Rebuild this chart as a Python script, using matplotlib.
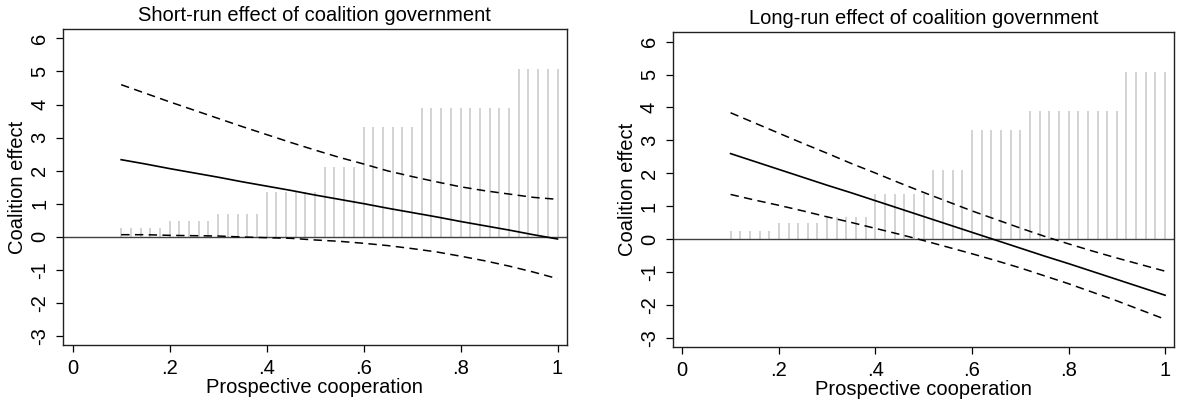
import matplotlib
matplotlib.use('Agg')
import matplotlib.pyplot as plt

plt.rcParams['font.family'] = ['Liberation Sans', 'DejaVu Sans']

# distribution of prospective cooperation (spikes), same in both panels
spike_x = [0.10, 0.12, 0.14, 0.16, 0.18,
           0.20, 0.22, 0.24, 0.26, 0.28,
           0.30, 0.32, 0.34, 0.36, 0.38,
           0.40, 0.42, 0.44, 0.46, 0.48, 0.50,
           0.52, 0.54, 0.56, 0.58,
           0.60, 0.62, 0.64, 0.66, 0.68, 0.70,
           0.72, 0.74, 0.76, 0.78, 0.80, 0.82, 0.84, 0.86, 0.88, 0.90,
           0.92, 0.94, 0.96, 0.98, 1.00]
spike_h = [0.25] * 5 + [0.48] * 5 + [0.69] * 5 + [1.36] * 6 + [2.11] * 4 \
    + [3.32] * 6 + [3.89] * 10 + [5.08] * 5

# effect curves
coop = [0.10, 0.15, 0.20, 0.25, 0.30, 0.35, 0.40, 0.45, 0.50, 0.55,
        0.60, 0.65, 0.70, 0.75, 0.80, 0.85, 0.90, 0.95, 1.00]

short_eff = [2.33, 2.20, 2.06, 1.93, 1.80, 1.66, 1.53, 1.40, 1.26, 1.13,
             1.00, 0.86, 0.73, 0.60, 0.46, 0.33, 0.20, 0.06, -0.07]
short_hi = [4.60, 4.34, 4.08, 3.83, 3.58, 3.33, 3.09, 2.85, 2.62, 2.40,
            2.20, 1.99, 1.82, 1.66, 1.51, 1.39, 1.29, 1.19, 1.13]
short_lo = [0.06, 0.06, 0.04, 0.03, 0.02, -0.01, -0.03, -0.05, -0.10, -0.14,
            -0.20, -0.27, -0.36, -0.46, -0.59, -0.73, -0.89, -1.07, -1.27]

long_eff = [2.60, 2.36, 2.12, 1.88, 1.64, 1.41, 1.17, 0.93, 0.69, 0.45,
            0.21, -0.03, -0.27, -0.51, -0.74, -0.98, -1.22, -1.46, -1.70]
long_hi = [3.84, 3.53, 3.22, 2.91, 2.61, 2.30, 2.01, 1.71, 1.42, 1.14,
           0.86, 0.60, 0.34, 0.09, -0.14, -0.36, -0.57, -0.77, -0.97]
long_lo = [1.36, 1.19, 1.03, 0.86, 0.68, 0.51, 0.33, 0.15, -0.04, -0.24,
           -0.44, -0.65, -0.87, -1.11, -1.35, -1.61, -1.87, -2.15, -2.43]

titles = ['Short-run effect of coalition government',
          'Long-run effect of coalition government']
xticks = [0, 0.2, 0.4, 0.6, 0.8, 1]
xticklabels = ['0', '.2', '.4', '.6', '.8', '1']
yticks = [-3, -2, -1, 0, 1, 2, 3, 4, 5, 6]

fig = plt.figure(figsize=(11.77, 4.05), dpi=100)
ax1 = fig.add_axes([0.0535, 0.148, 0.428, 0.780])
ax2 = fig.add_axes([0.5715, 0.1425, 0.4262, 0.7775])

fs = 14.5
for ax, title, eff, hi, lo in [(ax1, titles[0], short_eff, short_hi, short_lo),
                               (ax2, titles[1], long_eff, long_hi, long_lo)]:
    ax.vlines(spike_x, 0, spike_h, color='#c8c8c8', lw=1.1, zorder=1)
    ax.axhline(0, color='#404040', lw=1.0, zorder=2)
    ax.plot(coop, eff, color='black', lw=1.2, zorder=3)
    ax.plot(coop, hi, color='black', lw=1.1, ls=(0, (5.5, 3.5)), zorder=3)
    ax.plot(coop, lo, color='black', lw=1.1, ls=(0, (5.5, 3.5)), zorder=3)

    ax.set_xlim(-0.02, 1.019)
    ax.set_ylim(-3.28, 6.28)
    ax.set_xticks(xticks)
    ax.set_xticklabels(xticklabels)
    ax.set_yticks(yticks)
    ax.set_yticklabels([str(t) for t in yticks], rotation=90, va='center')
    ax.tick_params(labelsize=fs, length=5, width=0.9, direction='out')
    ax.tick_params(axis='x', pad=5)
    ax.tick_params(axis='y', pad=5)
    for s in ax.spines.values():
        s.set_linewidth(1.0)
        s.set_color('#202020')
    ax.set_title(title, fontsize=fs, pad=6)
    ax.set_xlabel('Prospective cooperation', fontsize=fs, labelpad=0)
    ax.set_ylabel('Coalition effect', fontsize=fs, labelpad=2)

fig.savefig('out.png', dpi=100)
